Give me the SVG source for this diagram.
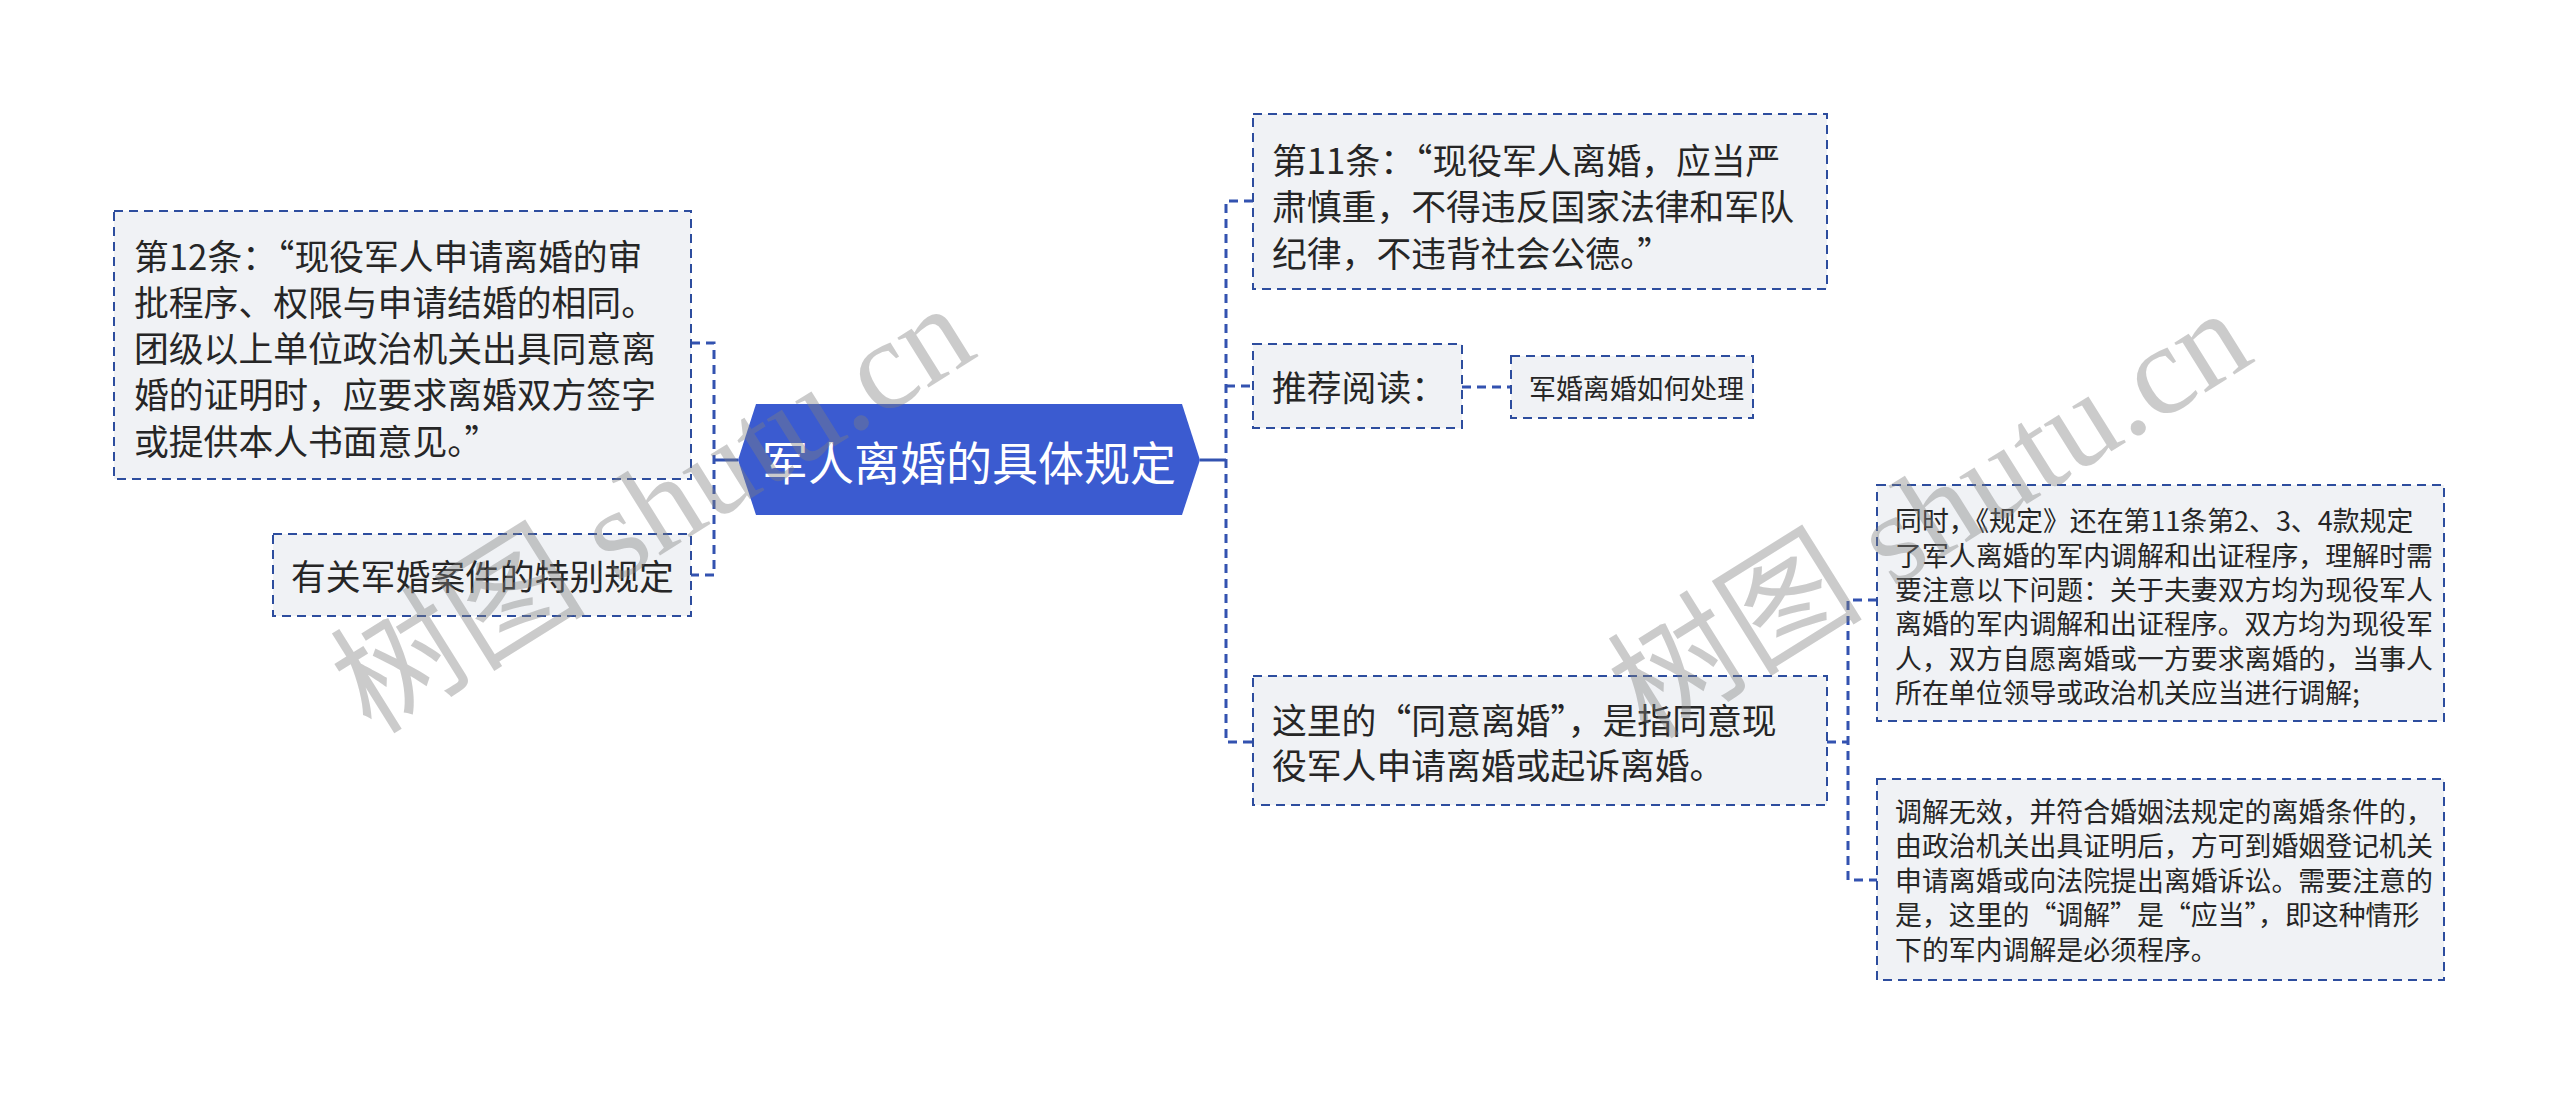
<svg xmlns="http://www.w3.org/2000/svg" width="2560" height="1095" viewBox="0 0 2560 1095">
<style>
.box{fill:#f0f2f5;stroke:#2d4d9e;stroke-width:2;stroke-dasharray:9 6;}
.t{font-family:"Noto Sans CJK SC","Liberation Sans",sans-serif;fill:#262626;dominant-baseline:central;}
.l{font-size:34.8px;}
.s{font-size:26.9px;}
.conn{fill:none;stroke:#3352b0;stroke-width:3;stroke-dasharray:9 6;}
.solid{fill:none;stroke:#3352b0;stroke-width:3;}
.wm{font-family:"Liberation Serif","Noto Sans CJK SC",serif;font-size:128px;fill:#808080;opacity:0.4;text-anchor:middle;dominant-baseline:central;}
</style>
<rect width="2560" height="1095" fill="#ffffff"/>
<g id="connectors">
<path class="conn" d="M691,343 H714 V575 H691"/>
<path class="solid" d="M738,460 H714"/>
<path class="conn" d="M1253,201 H1226 V742 H1253"/>
<path class="conn" d="M1226,386 H1253"/>
<path class="solid" d="M1200,460 H1226"/>
<path class="conn" d="M1462,387 H1511"/>
<path class="conn" d="M1877,600 H1848 V880 H1877"/>
<path class="conn" d="M1827,742 H1848"/>
</g>
<g id="center">
<polygon points="738,460 756,404 1182,404 1200,460 1182,515 756,515" fill="#3b5bd0"/>
<text x="969" y="460" font-family="Noto Sans CJK SC, Liberation Sans, sans-serif" font-size="46" fill="#ffffff" text-anchor="middle" dominant-baseline="central">军人离婚的具体规定</text>
</g>
<g id="node-art12">
<rect class="box" x="114" y="211" width="577" height="268"/>
<text class="t l" x="134" y="255">第12条：“现役军人申请离婚的审</text>
<text class="t l" x="134" y="300.5">批程序、权限与申请结婚的相同。</text>
<text class="t l" x="134" y="347">团级以上单位政治机关出具同意离</text>
<text class="t l" x="134" y="393">婚的证明时，应要求离婚双方签字</text>
<text class="t l" x="134" y="440">或提供本人书面意见。”</text>
</g>
<g id="node-special">
<rect class="box" x="273" y="534" width="418" height="82"/>
<text class="t l" x="291" y="575">有关军婚案件的特别规定</text>
</g>
<g id="node-art11">
<rect class="box" x="1253" y="114" width="574" height="175"/>
<text class="t l" x="1272" y="159">第11条：“现役军人离婚，应当严</text>
<text class="t l" x="1272" y="205">肃慎重，不得违反国家法律和军队</text>
<text class="t l" x="1272" y="252">纪律，不违背社会公德。”</text>
</g>
<g id="node-recommend">
<rect class="box" x="1253" y="344" width="209" height="84"/>
<text class="t l" x="1272" y="386">推荐阅读：</text>
</g>
<g id="node-link">
<rect class="box" x="1511" y="356" width="242" height="62"/>
<text class="t s" x="1529" y="387">军婚离婚如何处理</text>
</g>
<g id="node-agree">
<rect class="box" x="1253" y="676" width="574" height="129"/>
<text class="t l" x="1272" y="718.5">这里的“同意离婚”，是指同意现</text>
<text class="t l" x="1272" y="764">役军人申请离婚或起诉离婚。</text>
</g>
<g id="node-mediation">
<rect class="box" x="1877" y="485" width="567" height="236"/>
<text class="t s" x="1895" y="519.5">同时，《规定》还在第11条第2、3、4款规定</text>
<text class="t s" x="1895" y="554">了军人离婚的军内调解和出证程序，理解时需</text>
<text class="t s" x="1895" y="588">要注意以下问题：关于夫妻双方均为现役军人</text>
<text class="t s" x="1895" y="622.5">离婚的军内调解和出证程序。双方均为现役军</text>
<text class="t s" x="1895" y="657">人，双方自愿离婚或一方要求离婚的，当事人</text>
<text class="t s" x="1895" y="691">所在单位领导或政治机关应当进行调解;</text>
</g>
<g id="node-invalid">
<rect class="box" x="1877" y="779" width="567" height="201"/>
<text class="t s" x="1895" y="810">调解无效，并符合婚姻法规定的离婚条件的，</text>
<text class="t s" x="1895" y="844.5">由政治机关出具证明后，方可到婚姻登记机关</text>
<text class="t s" x="1895" y="879">申请离婚或向法院提出离婚诉讼。需要注意的</text>
<text class="t s" x="1895" y="913">是，这里的“调解”是“应当”，即这种情形</text>
<text class="t s" x="1895" y="948">下的军内调解是必须程序。</text>
</g>
<g id="watermarks">
<text class="wm" transform="translate(653,509) rotate(-32)">树图 shutu.cn</text>
<text class="wm" transform="translate(1930,514) rotate(-32)">树图 shutu.cn</text>
</g>
</svg>
